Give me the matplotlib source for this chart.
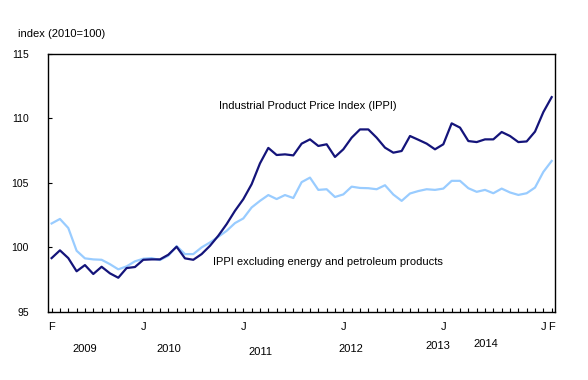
import matplotlib
matplotlib.use("Agg")
import matplotlib.pyplot as plt

plt.rcParams['font.family'] = ['Liberation Sans', 'DejaVu Sans']

# monthly, February 2009 to February 2014
ippi = [99.17, 99.77, 99.17, 98.15, 98.63, 97.94, 98.50, 97.99, 97.65, 98.40,
        98.48, 99.04, 99.07, 99.07, 99.43, 100.05, 99.15, 99.04, 99.48, 100.12,
        100.90, 101.80, 102.83, 103.73, 104.89, 106.50, 107.70, 107.15, 107.20, 107.12,
        108.03, 108.36, 107.85, 107.98, 107.00, 107.59, 108.49, 109.13, 109.13, 108.49,
        107.72, 107.33, 107.46, 108.62, 108.33, 108.03, 107.59, 107.98, 109.60, 109.27,
        108.23, 108.15, 108.36, 108.36, 108.93, 108.62, 108.15, 108.20, 108.96, 110.47,
        111.63]
ippi_ex = [101.85, 102.20, 101.50, 99.74, 99.15, 99.07, 99.04, 98.70, 98.30, 98.53,
           98.92, 99.12, 99.17, 99.02, 99.35, 100.10, 99.48, 99.48, 100.00, 100.38,
           100.82, 101.28, 101.88, 102.24, 103.09, 103.60, 104.05, 103.74, 104.05, 103.82,
           105.05, 105.40, 104.45, 104.50, 103.90, 104.10, 104.70, 104.60, 104.58, 104.50,
           104.81, 104.09, 103.60, 104.17, 104.36, 104.50, 104.45, 104.55, 105.15, 105.15,
           104.58, 104.30, 104.45, 104.19, 104.55, 104.25, 104.06, 104.19, 104.63, 105.84,
           106.69]
month_ticks = [0, 11, 23, 35, 47, 59, 60]
month_labels = ['F', 'J', 'J', 'J', 'J', 'J', 'F']
years = ['2009', '2010', '2011', '2012', '2013', '2014']
year_pos = [4.0, 14.1, 25.0, 35.9, 46.4, 52.1]
year_y = [-0.125, -0.125, -0.137, -0.125, -0.113, -0.105]

fig = plt.figure(figsize=(5.88, 3.8), dpi=100)
ax = fig.add_axes([0.0821, 0.179, 0.8618, 0.680])

x = list(range(len(ippi)))
ax.plot(x, ippi_ex, color='#99ccff', lw=1.6, zorder=2)
ax.plot(x, ippi, color='#14147a', lw=1.6, zorder=3)

ax.set_xlim(-0.4, 60.4)
ax.set_ylim(95, 115)
ax.set_yticks([95, 100, 105, 110, 115])
ax.tick_params(axis='y', direction='in', length=3, labelsize=7.5, pad=14)
ax.set_xticks(x)
ax.set_xticklabels([])
ax.tick_params(axis='x', direction='in', length=3, width=0.8)
for sp in ax.spines.values():
    sp.set_linewidth(1.0)

for p, l in zip(month_ticks, month_labels):
    ax.text(p, -0.04, l, transform=ax.get_xaxis_transform(), ha='center', va='top', fontsize=8)
for p, l, yy in zip(year_pos, years, year_y):
    ax.text(p, yy, l, transform=ax.get_xaxis_transform(), ha='center', va='top', fontsize=8)

ax.text(30.7, 110.95, 'Industrial Product Price Index (IPPI)', ha='center', va='center', fontsize=8)
ax.text(33.1, 98.9, 'IPPI excluding energy and petroleum products', ha='center', va='center', fontsize=8)
fig.text(0.031, 0.911, 'index (2010=100)', ha='left', va='center', fontsize=8)

fig.savefig('out.png', dpi=100)
